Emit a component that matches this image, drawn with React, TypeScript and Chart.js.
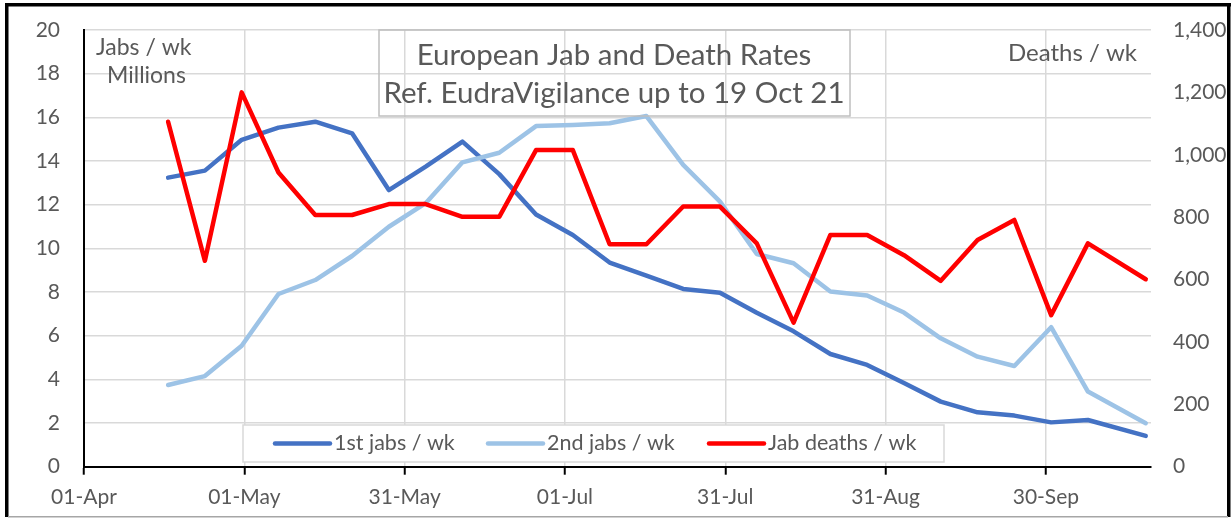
import React, { useEffect, useRef } from "react";
import { Chart, registerables } from "chart.js";

Chart.register(...registerables);

const days = [16, 23, 30, 37, 44, 51, 58, 65, 72, 79, 86, 93, 100, 107, 114, 121, 128, 135, 142, 149, 156, 163, 170, 177, 184, 191, 202];
const firstJabs = [13.24, 13.56, 14.97, 15.53, 15.8, 15.27, 12.67, 13.74, 14.89, 13.4, 11.55, 10.61, 9.35, 8.75, 8.14, 7.97, 7.05, 6.2, 5.16, 4.66, 3.83, 2.98, 2.49, 2.34, 2.03, 2.14, 1.41];
const secondJabs = [3.74, 4.15, 5.54, 7.91, 8.55, 9.65, 10.99, 12.07, 13.94, 14.38, 15.6, 15.65, 15.73, 16.06, 13.82, 12.14, 9.74, 9.32, 8.02, 7.84, 7.06, 5.88, 5.04, 4.61, 6.39, 3.44, 1.99];
const deaths = [1106, 660, 1200, 943, 807, 807, 842, 842, 801, 801, 1015, 1015, 713, 713, 834, 834, 716, 462, 743, 743, 678, 596, 727, 791, 486, 716, 601];

const xTickDays = [0, 30.5, 61, 91.5, 122, 152.5, 183];
const xTickLabels = ["01-Apr", "01-May", "31-May", "01-Jul", "31-Jul", "31-Aug", "30-Sep"];

const seriesNames = ["1st jabs / wk", "2nd jabs / wk", "Jab deaths / wk"];
const seriesColors = ["#4472C4", "#9DC3E6", "#FF0000"];
const titleLines = ["European Jab and Death Rates", "Ref. EudraVigilance up to 19 Oct 21"];

const FONT = "Lato, 'Liberation Sans', sans-serif";
const TEXT = "#595959";

const overlay = {
  id: "overlay",
  afterDraw(chart: any) {
    const ctx = chart.ctx as CanvasRenderingContext2D;
    ctx.save();
    // axis captions
    ctx.fillStyle = TEXT;
    ctx.textBaseline = "alphabetic";
    ctx.textAlign = "left";
    ctx.font = `23px ${FONT}`;
    ctx.fillText("Jabs / wk", 96, 55);
    ctx.fillText("Millions", 107, 83);
    ctx.textAlign = "right";
    ctx.font = `24px ${FONT}`;
    ctx.fillText("Deaths / wk", 1137, 61);

    // title box
    ctx.strokeStyle = "#BFBFBF";
    ctx.lineWidth = 1.5;
    ctx.strokeRect(379, 30, 471, 86);
    ctx.font = `29.5px ${FONT}`;
    ctx.textAlign = "center";
    ctx.fillStyle = TEXT;
    ctx.fillText(titleLines[0], 614, 65);
    ctx.fillText(titleLines[1], 614, 103);

    // legend
    ctx.fillStyle = "#FFFFFF";
    ctx.fillRect(243, 425, 701, 37);
    ctx.strokeStyle = "#D9D9D9";
    ctx.lineWidth = 1.5;
    ctx.strokeRect(243, 425, 701, 37);
    const sx = [275, 488, 709];
    ctx.font = `21.5px ${FONT}`;
    ctx.textAlign = "left";
    ctx.textBaseline = "middle";
    for (let i = 0; i < 3; i++) {
      ctx.strokeStyle = seriesColors[i];
      ctx.lineWidth = 4.5;
      ctx.lineCap = "round";
      ctx.beginPath();
      ctx.moveTo(sx[i], 443.5);
      ctx.lineTo(sx[i] + 55, 443.5);
      ctx.stroke();
      ctx.fillStyle = TEXT;
      ctx.fillText(seriesNames[i], sx[i] + 59, 443);
    }

    // outer border
    ctx.fillStyle = "#000000";
    ctx.fillRect(5, 3, 3.5, 514);
    ctx.fillRect(5, 3, 1226, 3.5);
    ctx.fillRect(1227, 3, 3.5, 514);
    ctx.fillStyle = "#A6A6A6";
    ctx.fillRect(8, 516, 1220, 1.5);
    ctx.restore();
  },
};

export default function App() {
  const ref = useRef<HTMLCanvasElement>(null);
  useEffect(() => {
    if (!ref.current) return;
    const mk = (vals: number[]) => days.map((d, i) => ({ x: d, y: vals[i] }));
    const chart = new Chart(ref.current, {
      type: "line",
      data: {
        datasets: [
          { label: seriesNames[0], data: mk(firstJabs), yAxisID: "y", borderColor: seriesColors[0], order: 3 },
          { label: seriesNames[1], data: mk(secondJabs), yAxisID: "y", borderColor: seriesColors[1], order: 2 },
          { label: seriesNames[2], data: mk(deaths), yAxisID: "y2", borderColor: seriesColors[2], order: 1 },
        ].map((d) => ({
          ...d,
          borderWidth: 4.5,
          pointRadius: 0,
          tension: 0,
          fill: false,
          borderCapStyle: "round" as const,
          borderJoinStyle: "round" as const,
        })),
      },
      options: {
        responsive: false,
        animation: false,
        layout: { padding: { top: 30, left: 0, right: 0, bottom: 0 } },
        plugins: { legend: { display: false }, tooltip: { enabled: false }, title: { display: false } },
        scales: {
          x: {
            type: "linear",
            min: 0,
            max: 203,
            afterBuildTicks: (s: any) => {
              s.ticks = xTickDays.map((v) => ({ value: v }));
            },
            afterFit: (s: any) => {
              s.height = 52.3;
              s.paddingLeft = 0;
              s.paddingRight = 0;
            },
            ticks: {
              color: TEXT,
              font: { family: FONT, size: 21 },
              padding: 10,
              maxRotation: 0,
              autoSkip: false,
              callback: (v: any) => {
                const i = xTickDays.indexOf(Number(v));
                return i >= 0 ? xTickLabels[i] : "";
              },
            },
            grid: { color: "#D9D9D9", lineWidth: 1.5, tickLength: 8, tickColor: "#000000", tickWidth: 2 },
            border: { color: "#000000", width: 2 },
          },
          y: {
            position: "left",
            min: 0,
            max: 20,
            afterFit: (s: any) => {
              s.width = 84;
              s.paddingTop = 0;
              s.paddingBottom = 0;
            },
            ticks: { stepSize: 2, color: TEXT, font: { family: FONT, size: 21 }, padding: 24 },
            grid: { color: "#D9D9D9", lineWidth: 1.5, drawTicks: false },
            border: { color: "#000000", width: 2 },
          },
          y2: {
            position: "right",
            min: 0,
            max: 1400,
            afterFit: (s: any) => {
              s.width = 81;
              s.paddingTop = 0;
              s.paddingBottom = 0;
            },
            ticks: {
              stepSize: 200,
              color: TEXT,
              font: { family: FONT, size: 21 },
              padding: 22,
              callback: (v: any) => Number(v).toLocaleString("en-US"),
            },
            grid: { display: false, drawTicks: false },
            border: { display: false },
          },
        },
      },
      plugins: [overlay],
    });
    return () => chart.destroy();
  }, []);
  return (
    <div style={{ position: "fixed", left: 0, top: 0, width: 1232, height: 519, background: "#fff" }}>
      <canvas ref={ref} width={1232} height={519} style={{ display: "block" }} />
    </div>
  );
}
